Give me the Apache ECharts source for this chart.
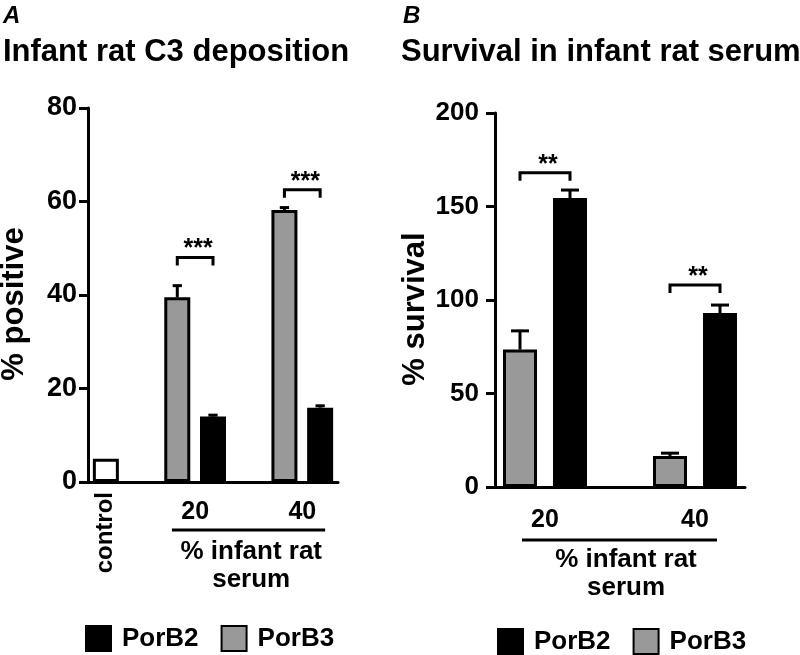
<!DOCTYPE html>
<html><head><meta charset="utf-8">
<script src="https://cdn.jsdelivr.net/npm/echarts@6/dist/echarts.min.js"></script>
<style>html,body{margin:0;padding:0;background:#fff}#c{width:800px;height:655px}</style>
</head><body><div id="c"></div>
<script>
// ---------------- data ----------------
const serumLevels = ['20', '40'];
const controlC3 = 5.0;
const c3PorB3 = [39.5, 58.2];
const c3PorB3Err = [2.5, 0.5];
const c3PorB2 = [14.0, 15.9];
const c3PorB2Err = [0.3, 0.4];
const c3Sig = ['***', '***'];
const c3SigY = [48, 62.5];

const survPorB3 = [73.5, 16.6];
const survPorB3Err = [10.0, 1.5];
const survPorB2 = [154.5, 93.0];
const survPorB2Err = [4.3, 4.3];
const survSig = ['**', '**'];
const survSigY = [168, 108];

const yTicksA = [0, 20, 40, 60, 80];
const yTicksB = [0, 50, 100, 150, 200];
const seriesNames = ['PorB2', 'PorB3'];

// ---------------- slot layout (category indices) ----------------
// Panel A: control | gap | 20(B3,B2) | gap | 40(B3,B2)
const slotsA = ['control', 'gA1', '20-PorB3', '20-PorB2', 'gA2', '40-PorB3', '40-PorB2'];
const pairA = [[2, 3], [5, 6]];
// Panel B: 20(B3,B2) | gap | 40(B3,B2)
const slotsB = ['20-PorB3', '20-PorB2', 'gB1', '40-PorB3', '40-PorB2'];
const pairB = [[0, 1], [3, 4]];

function place(n, pairs, vals, which) {
  const arr = new Array(n).fill('-');
  pairs.forEach((p, k) => { arr[p[which]] = vals[k]; });
  return arr;
}
function errData(pairs, vals, errs, which) {
  return pairs.map((p, k) => [p[which], vals[k], errs[k]]);
}
function sigData(pairs, ys) {
  return pairs.map((p, k) => [p[0], p[1], ys[k]]);
}

const FONT = 'Liberation Sans, Arial, Helvetica, sans-serif';
const GREY = '#999999';

function errRenderer(capFrac) {
  return function (params, api) {
    const x = api.value(0), v = api.value(1), e = api.value(2);
    const p0 = api.coord([x, v]);
    const p1 = api.coord([x, v + e]);
    const half = api.size([1, 0])[0] * capFrac;
    return { type: 'group', children: [
      { type: 'line', shape: { x1: p0[0], y1: p0[1], x2: p1[0], y2: p1[1] }, style: { stroke: '#000', lineWidth: 3 } },
      { type: 'line', shape: { x1: p1[0] - half, y1: p1[1], x2: p1[0] + half, y2: p1[1] }, style: { stroke: '#000', lineWidth: 3 } }
    ] };
  };
}
function sigRenderer(labels) {
  return function (params, api) {
    const a = api.coord([api.value(0), api.value(2)]);
    const b = api.coord([api.value(1), api.value(2)]);
    const drop = 8;
    return { type: 'group', children: [
      { type: 'polyline', shape: { points: [[a[0], a[1] + drop], [a[0], a[1]], [b[0], b[1]], [b[0], b[1] + drop]] },
        style: { stroke: '#000', lineWidth: 3, fill: null } },
      { type: 'text', x: (a[0] + b[0]) / 2 + 3, y: a[1] - 8,
        style: { text: labels[params.dataIndex], font: 'bold 25px ' + FONT, fill: '#000', align: 'center', verticalAlign: 'middle' } }
    ] };
  };
}

function yAxis(gridIndex, ticks, name, nameGap, labelSize, margin) {
  return {
    type: 'value', gridIndex, min: ticks[0], max: ticks[ticks.length - 1], interval: ticks[1] - ticks[0],
    name, nameLocation: 'middle', nameGap, nameRotate: 90,
    nameTextStyle: { fontFamily: FONT, fontWeight: 'bold', fontSize: 31, color: '#000', padding: [0, 18, 0, 0] },
    axisLine: { show: true, lineStyle: { color: '#000', width: 3 } },
    axisTick: { show: true, length: 9, lineStyle: { color: '#000', width: 3 } },
    axisLabel: { fontFamily: FONT, fontWeight: 'bold', fontSize: labelSize, color: '#000', margin },
    splitLine: { show: false }
  };
}

const barBase = { type: 'bar', barGap: '-100%', animation: false };
const titleFont = { fontFamily: FONT, fontWeight: 'bold', fontSize: 31, color: '#000' };
const letterFont = { fontFamily: FONT, fontStyle: 'italic', fontWeight: 'bold', fontSize: 24, color: '#000' };

const option = {
  animation: false,
  backgroundColor: '#fff',
  title: [
    { text: 'A', left: 3, top: 4, padding: 0, textStyle: letterFont },
    { text: 'Infant rat C3 deposition', left: 3, top: 37, padding: 0, textStyle: titleFont },
    { text: 'B', left: 403, top: 4, padding: 0, textStyle: letterFont },
    { text: 'Survival in infant rat serum', left: 401, top: 37, padding: 0, textStyle: titleFont }
  ],
  legend: [
    { data: seriesNames, left: 85, top: 625, padding: 0, itemWidth: 25, itemHeight: 25, itemGap: 22, icon: 'rect',
      textStyle: { fontFamily: FONT, fontWeight: 'bold', fontSize: 26, color: '#000', padding: [0, 0, 0, 6] }, selectedMode: false },
    { data: seriesNames, left: 497, top: 628, padding: 0, itemWidth: 25, itemHeight: 25, itemGap: 22, icon: 'rect',
      textStyle: { fontFamily: FONT, fontWeight: 'bold', fontSize: 26, color: '#000', padding: [0, 0, 0, 6] }, selectedMode: false }
  ],
  grid: [
    { left: 88, top: 108, width: 250, height: 374, containLabel: false, outerBoundsMode: 'none' },
    { left: 495, top: 113, width: 250, height: 374, containLabel: false, outerBoundsMode: 'none' }
  ],
  xAxis: [
    { type: 'category', gridIndex: 0, data: slotsA,
      axisLine: { lineStyle: { color: '#000', width: 3 } }, axisTick: { show: false },
      axisLabel: { interval: 0, rotate: 90, margin: 10, fontFamily: FONT, fontWeight: 'bold', fontSize: 24, color: '#000',
        formatter: v => (v === 'control' ? 'control' : '') } },
    { type: 'category', gridIndex: 1, data: slotsB,
      axisLine: { lineStyle: { color: '#000', width: 3 } }, axisTick: { show: false }, axisLabel: { show: false } }
  ],
  yAxis: [
    yAxis(0, yTicksA, '% positive', 58, 27, 11),
    yAxis(1, yTicksB, '% survival', 64, 26, 16)
  ],
  series: [
    Object.assign({}, barBase, { name: 'control', xAxisIndex: 0, yAxisIndex: 0, barWidth: 26,
      data: [controlC3, '-', '-', '-', '-', '-', '-'],
      itemStyle: { color: '#fff', borderColor: '#000', borderWidth: 3 } }),
    Object.assign({}, barBase, { name: 'PorB3', xAxisIndex: 0, yAxisIndex: 0, barWidth: 26,
      data: place(slotsA.length, pairA, c3PorB3, 0),
      itemStyle: { color: GREY, borderColor: '#000', borderWidth: 3 } }),
    Object.assign({}, barBase, { name: 'PorB2', xAxisIndex: 0, yAxisIndex: 0, barWidth: 26,
      data: place(slotsA.length, pairA, c3PorB2, 1),
      itemStyle: { color: '#000', borderColor: '#000', borderWidth: 3 } }),
    Object.assign({}, barBase, { name: 'PorB3', xAxisIndex: 1, yAxisIndex: 1, barWidth: 34,
      data: place(slotsB.length, pairB, survPorB3, 0),
      itemStyle: { color: GREY, borderColor: '#000', borderWidth: 3 } }),
    Object.assign({}, barBase, { name: 'PorB2', xAxisIndex: 1, yAxisIndex: 1, barWidth: 34,
      data: place(slotsB.length, pairB, survPorB2, 1),
      itemStyle: { color: '#000', borderColor: '#000', borderWidth: 3 } }),
    { type: 'custom', name: 'errA', xAxisIndex: 0, yAxisIndex: 0, z: 3, encode: { x: 0, y: 1 },
      renderItem: errRenderer(0.13),
      data: errData(pairA, c3PorB3, c3PorB3Err, 0).concat(errData(pairA, c3PorB2, c3PorB2Err, 1)) },
    { type: 'custom', name: 'errB', xAxisIndex: 1, yAxisIndex: 1, z: 3, encode: { x: 0, y: 1 },
      renderItem: errRenderer(0.18),
      data: errData(pairB, survPorB3, survPorB3Err, 0).concat(errData(pairB, survPorB2, survPorB2Err, 1)) },
    { type: 'custom', name: 'sigA', xAxisIndex: 0, yAxisIndex: 0, z: 4, encode: { x: [0, 1], y: 2 },
      renderItem: sigRenderer(c3Sig), data: sigData(pairA, c3SigY) },
    { type: 'custom', name: 'sigB', xAxisIndex: 1, yAxisIndex: 1, z: 4, encode: { x: [0, 1], y: 2 },
      renderItem: sigRenderer(survSig), data: sigData(pairB, survSigY) }
  ]
};

const chart = echarts.init(document.getElementById('c'), null, { renderer: 'canvas' });
chart.setOption(option);

// group labels under the x axis (positioned through the axis scales)
function groupGraphics(gridIndex, pairs, lineFrom, lineTo, shift, numOff, lineOff, textOff) {
  const sx = i => chart.convertToPixel({ gridIndex }, [i, 0])[0];
  const y0 = chart.convertToPixel({ gridIndex }, [0, 0])[1];
  const step = sx(1) - sx(0);
  const xAt = f => sx(0) + f * step;
  const els = [];
  pairs.forEach((p, k) => {
    els.push({ type: 'text', x: (sx(p[0]) + sx(p[1])) / 2, y: y0 + numOff,
      style: { text: serumLevels[k], font: 'bold 25px ' + FONT, fill: '#000', align: 'center', verticalAlign: 'middle' } });
  });
  els.push({ type: 'line', shape: { x1: xAt(lineFrom), y1: y0 + lineOff, x2: xAt(lineTo), y2: y0 + lineOff },
    style: { stroke: '#000', lineWidth: 3 } });
  const cx = (sx(pairs[0][0]) + sx(pairs[pairs.length - 1][1])) / 2 + shift * step;
  els.push({ type: 'text', x: cx, y: y0 + textOff,
    style: { text: '% infant rat\nserum', font: 'bold 26px ' + FONT, lineHeight: 28, fill: '#000', align: 'center', verticalAlign: 'top' } });
  return els;
}
chart.setOption({ graphic: [].concat(
  groupGraphics(0, pairA, 1.85, 6.14, 0.07, 30, 48, 56),
  groupGraphics(1, pairB, 0.04, 3.94, 0.12, 33, 53, 59)
) });
</script></body></html>
